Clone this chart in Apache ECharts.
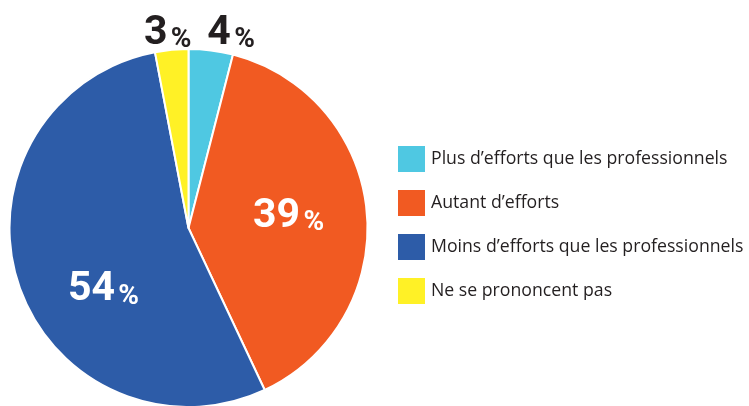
<!DOCTYPE html>
<html>
<head>
<meta charset="utf-8">
<script src="https://cdn.jsdelivr.net/npm/echarts@6/dist/echarts.min.js"></script>
<style>
  html, body { margin: 0; padding: 0; background: #fff; }
  #chart { width: 749px; height: 406px; }
</style>
</head>
<body>
<div id="chart"></div>
<script>
// données
var categories = ['Plus d\u2019efforts que les professionnels', 'Autant d\u2019efforts', 'Moins d\u2019efforts que les professionnels', 'Ne se prononcent pas'];
var values = [4, 39, 54, 3];
var colors = ['#4fc8e2', '#f15a22', '#2d5ca8', '#fff126'];

// position des étiquettes (inside = blanc dans la part, sinon au-dessus)
var labelInside = [false, true, true, false];
var labelOffset = [[31, -103], [8, -3], [3, 33], [-12, -103]];

var chart = echarts.init(document.getElementById('chart'));

var data = [];
for (var i = 0; i < values.length; i++) {
    data.push({
        value: values[i],
        name: categories[i],
        itemStyle: { color: colors[i] },
        label: {
            offset: labelOffset[i],
            color: labelInside[i] ? '#ffffff' : '#231f20'
        }
    });
}

var option = {
    animation: false,
    legend: {
        orient: 'vertical',
        left: 391,
        top: 139,
        itemWidth: 29,
        itemHeight: 28,
        itemGap: 14,
        icon: 'rect',
        selectedMode: false,
        textStyle: {
            fontFamily: 'Open Sans',
            fontSize: 17.7,
            color: '#231f20'
        },
        data: categories
    },
    series: [
        {
            type: 'pie',
            center: [188.5, 228],
            radius: [0, 179],
            startAngle: 90,
            clockwise: true,
            avoidLabelOverlap: false,
            itemStyle: { borderColor: '#ffffff', borderWidth: 2 },
            label: {
                show: true,
                position: 'inside',
                formatter: function (p) { return '{n|' + p.value + '} {p|%}'; },
                rich: {
                    n: { fontFamily: 'Roboto', fontWeight: 'bold', fontSize: 41, verticalAlign: 'bottom', lineHeight: 42 },
                    p: { fontFamily: 'Roboto', fontWeight: 'bold', fontSize: 28, verticalAlign: 'bottom', lineHeight: 38 }
                }
            },
            labelLine: { show: false },
            emphasis: { disabled: true },
            data: data
        }
    ]
};
chart.setOption(option);
</script>
</body>
</html>
